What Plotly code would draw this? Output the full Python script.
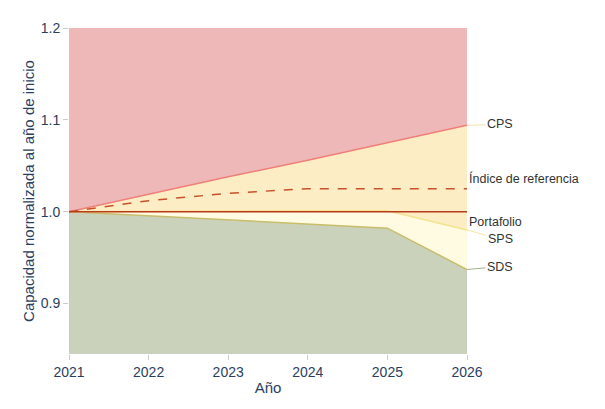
import plotly.graph_objects as go

years = [2021, 2022, 2023, 2024, 2025, 2026]
cps = [1.0, 1.019, 1.038, 1.056, 1.075, 1.094]
referencia = [1.0, 1.012, 1.02, 1.025, 1.025, 1.025]
portafolio = [1.0, 1.0, 1.0, 1.0, 1.0, 1.0]
sps = [1.0, 1.0005, 1.001, 1.001, 1.001, 0.980]
sds = [1.0, 0.9955, 0.991, 0.9865, 0.982, 0.937]

y_range = [0.845, 1.2]
x_range = [2021, 2026]

fig = go.Figure()

fig.add_trace(go.Scatter(x=years, y=sds, mode="lines", fill="tozeroy",
                         fillcolor="#cad2bb", line=dict(color="#c9bd6c", width=1.5)))
fig.add_trace(go.Scatter(x=years, y=sps, mode="lines", fill="tonexty",
                         fillcolor="#fffbe2", line=dict(color="#f2e38f", width=1.5)))
fig.add_trace(go.Scatter(x=years, y=cps, mode="lines", fill="tonexty",
                         fillcolor="#fdedc4", line=dict(color="#f07f7a", width=1.5)))
fig.add_trace(go.Scatter(x=years, y=referencia, mode="lines",
                         line=dict(color="#c8502a", width=1.5, dash="dash")))
fig.add_trace(go.Scatter(x=years, y=portafolio, mode="lines",
                         line=dict(color="#b83a1a", width=1.5)))

lab_font = dict(family="Liberation Sans, Arial, sans-serif", size=12.5, color="#333333")
annotations = [
    dict(x=years[-1], y=cps[-1], text="CPS", showarrow=True, arrowhead=0, ax=33, ay=-1,
         arrowcolor="#f7e2a6", arrowwidth=1, font=lab_font),
    dict(x=years[-1], y=sps[-1], text="SPS", showarrow=True, arrowhead=0, ax=33, ay=9,
         arrowcolor="#f6e8a8", arrowwidth=1, font=lab_font),
    dict(x=years[-1], y=sds[-1], text="SDS", showarrow=True, arrowhead=0, ax=33, ay=-3,
         arrowcolor="#a4b38e", arrowwidth=1, font=lab_font),
    dict(x=years[-1], y=referencia[-1], text="Índice de referencia", showarrow=False,
         xanchor="left", yshift=10, font=lab_font),
    dict(x=years[-1], y=portafolio[-1], text="Portafolio", showarrow=False,
         xanchor="left", yshift=-10, font=lab_font),
]

fig.update_layout(
    width=597, height=401,
    margin=dict(l=61, r=138, t=14, b=55),
    paper_bgcolor="white",
    plot_bgcolor="#eeb8b8",
    showlegend=False,
    font=dict(family="Liberation Sans, Arial, sans-serif", size=14, color="#2a3f5f"),
    annotations=annotations,
    xaxis=dict(range=x_range, tickvals=years, ticks="outside", ticklen=5, tickcolor="#cccccc",
               showgrid=False, zeroline=False, showline=False,
               title=dict(text="Año", font=dict(size=15), standoff=3)),
    yaxis=dict(range=y_range, tickvals=[0.9, 1.0, 1.1, 1.2], ticktext=["0.9", "1.0", "1.1", "1.2"],
               ticks="outside", ticklen=5, tickcolor="#cccccc",
               showgrid=False, zeroline=False, showline=False,
               title=dict(text="Capacidad normalizada al año de inicio", font=dict(size=15), standoff=2)),
)

fig.write_html("out.html")
